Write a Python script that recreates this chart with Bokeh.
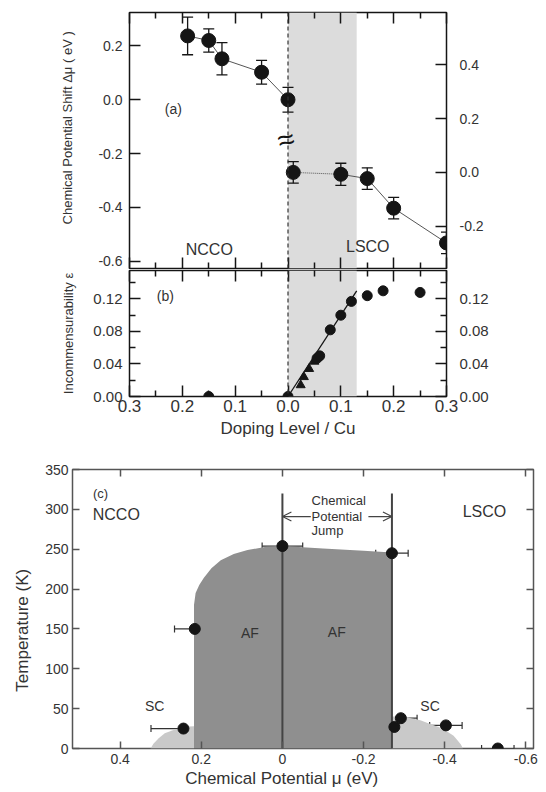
from bokeh.plotting import figure
from bokeh.models import (Range1d, LinearAxis, FixedTicker, CustomJSTickFormatter,
                          BoxAnnotation, Span, Whisker, TeeHead, ColumnDataSource,
                          Arrow, OpenHead, Label, CustomLabelingPolicy)
from bokeh.embed import file_html
from bokeh.resources import INLINE

FONT = "Liberation Sans"
INK = "#151515"
TXT = "#333333"
SHADE = "#dcdcdc"

# ---------------- data: panel (a) ----------------
ncco_dop_a = [0.19, 0.15, 0.125, 0.05, 0.0]
ncco_dmu = [0.237, 0.220, 0.152, 0.102, 0.0]
ncco_dmu_err = [0.070, 0.043, 0.060, 0.044, 0.046]
lsco_dop_a = [0.01, 0.10, 0.15, 0.20, 0.30]
lsco_dmu = [0.0, -0.007, -0.023, -0.133, -0.262]      # read on the right axis
lsco_dmu_err = [0.040, 0.041, 0.040, 0.040, 0.040]
right_offset = 0.27
a_ticks_left = [0.2, 0.0, -0.2, -0.4, -0.6]
a_ticks_right = [0.4, 0.2, 0.0, -0.2]

# ---------------- data: panel (b) ----------------
ncco_dop_b = [0.15]
ncco_eps = [0.0]
lsco_dop_b = [0.0, 0.055, 0.06, 0.08, 0.10, 0.12, 0.15, 0.18, 0.25]
lsco_eps = [0.0, 0.047, 0.050, 0.082, 0.100, 0.117, 0.124, 0.130, 0.128]
tri_dop = [0.024, 0.030, 0.040, 0.050]
tri_eps = [0.014, 0.024, 0.034, 0.043]
fit_dop = [0.0, 0.13]
fit_eps = [0.0, 0.13]
b_ticks = [0.0, 0.04, 0.08, 0.12]
b_minor = [0.02, 0.06, 0.10, 0.14]
dop_ticks = [-0.3, -0.2, -0.1, 0.0, 0.1, 0.2, 0.3]
dop_minor = [-0.25, -0.15, -0.05, 0.05, 0.15, 0.25]
shade_edge = 0.13

# ---------------- data: panel (c) ----------------
mu_pts = [0.244, 0.216, 0.0, -0.27, -0.276, -0.292, -0.403, -0.531]
temp_pts = [25, 150, 254, 245, 27, 38, 29, 0]
mu_err = [0.08, 0.05, 0.05, 0.04, 0.04, 0.04, 0.04, 0.04]
af_mu = [0.218, 0.218, 0.214, 0.205, 0.194, 0.175, 0.152, 0.12, 0.086, 0.04, 0.0,
         -0.1, -0.2, -0.27, -0.27]
af_T = [0, 180, 195, 205, 214, 226, 236, 244, 249, 253, 254, 251, 248, 246, 0]
sc1_mu = [0.325, 0.318, 0.305, 0.29, 0.27, 0.25, 0.23, 0.218, 0.218]
sc1_T = [0, 6, 13, 19, 23, 26, 27.5, 28, 0]
sc2_mu = [-0.27, -0.27, -0.30, -0.317, -0.34, -0.358, -0.385, -0.407, -0.422,
          -0.432, -0.44, -0.445]
sc2_T = [0, 40, 40, 38, 35.5, 32, 27, 21, 16, 10, 5, 0]
jump_mu = [0.0, -0.27]
jump_top = [320, 320]
c_xticks = [0.4, 0.2, 0.0, -0.2, -0.4, -0.6]
c_yticks = [0, 50, 100, 150, 200, 250, 300, 350]

ABS1 = CustomJSTickFormatter(code="return Math.abs(tick).toFixed(1);")
FIX1 = CustomJSTickFormatter(code="return tick.toFixed(1);")
FIX2 = CustomJSTickFormatter(code="return tick.toFixed(2);")
MUF = CustomJSTickFormatter(code="return Math.abs(tick) < 1e-9 ? '0' : tick.toFixed(1);")
INTF = CustomJSTickFormatter(code="return tick.toFixed(0);")


def style_axis(ax, labels, size="14px", major_in=11, minor_in=6, standoff=7,
               color=INK, width=1.5):
    ax.axis_line_color = None
    ax.major_tick_in = major_in
    ax.major_tick_out = 0
    ax.minor_tick_in = minor_in
    ax.minor_tick_out = 0
    ax.major_tick_line_color = color
    ax.minor_tick_line_color = color
    ax.major_tick_line_width = width
    ax.minor_tick_line_width = width
    if labels:
        ax.major_label_text_font = FONT
        ax.major_label_text_font_size = size
        ax.major_label_text_color = TXT
        ax.major_label_standoff = standoff
    else:
        ax.formatter = CustomJSTickFormatter(code="return '';")
        ax.major_label_policy = CustomLabelingPolicy(
            code="for (let i = 0; i < indices.size; i++) { indices.unset(i) } return indices;")
        ax.major_label_text_font_size = "2px"
        ax.major_label_standoff = 0


def base_fig(**kw):
    p = figure(output_backend="svg", toolbar_location=None, **kw)
    p.grid.visible = False
    p.background_fill_color = "white"
    p.border_fill_color = "white"
    p.outline_line_color = INK
    p.outline_line_width = 1.5
    p.outline_line_alpha = 1.0
    return p


def whisk(p, base, lo, up, dim, size, color=INK, lw=1.3, **kw):
    src = ColumnDataSource(dict(base=base, lo=lo, up=up))
    w = Whisker(source=src, base="base", lower="lo", upper="up", dimension=dim,
                line_color=color, line_width=lw,
                upper_head=TeeHead(size=size, line_color=color, line_width=lw),
                lower_head=TeeHead(size=size, line_color=color, line_width=lw), **kw)
    p.add_layout(w)


# ================= panel (a) =================
A_LO, A_HI = -0.627, 0.324
fa = base_fig(width=546, height=270, x_range=Range1d(-0.3, 0.3),
              y_range=Range1d(A_LO, A_HI), min_border_left=129,
              min_border_right=100, min_border_top=12, min_border_bottom=2)
fa.extra_y_ranges = {"r": Range1d(A_LO + right_offset, A_HI + right_offset)}

xa = fa.xaxis[0]
xa.ticker = FixedTicker(ticks=dop_ticks, minor_ticks=dop_minor)
style_axis(xa, labels=False)
ya = fa.yaxis[0]
ya.ticker = FixedTicker(ticks=a_ticks_left, minor_ticks=[])
ya.formatter = FIX1
style_axis(ya, labels=True, size="14px", standoff=7)
ya.axis_label = "\u00a0" * 7 + "Chemical Potential Shift \u0394\u03bc ( eV )"
ya.axis_label_text_font = FONT
ya.axis_label_text_font_style = "normal"
ya.axis_label_text_font_size = "13px"
ya.axis_label_text_color = TXT
ya.axis_label_standoff = 20

ta = LinearAxis(ticker=FixedTicker(ticks=dop_ticks, minor_ticks=dop_minor))
style_axis(ta, labels=False)
fa.add_layout(ta, "above")
ra = LinearAxis(y_range_name="r", ticker=FixedTicker(ticks=a_ticks_right, minor_ticks=[]),
                formatter=FIX1)
style_axis(ra, labels=True, size="14px", standoff=13)
fa.add_layout(ra, "right")

fa.add_layout(BoxAnnotation(left=0.0, right=shade_edge, fill_color=SHADE, fill_alpha=1.0,
                            line_color=None, level="underlay"))
fa.add_layout(Span(location=0.0, dimension="height", line_color="#333333",
                   line_width=1.2, line_dash="4 3"))

ncco_x = [-d for d in ncco_dop_a]
fa.line(ncco_x, ncco_dmu, line_color="#555555", line_width=1)
fa.line(lsco_dop_a[:2], lsco_dmu[:2], y_range_name="r", line_color="#555555",
        line_width=1, line_dash="1 1")
fa.line(lsco_dop_a[1:], lsco_dmu[1:], y_range_name="r", line_color="#555555", line_width=1)
whisk(fa, ncco_x, [v - e for v, e in zip(ncco_dmu, ncco_dmu_err)],
      [v + e for v, e in zip(ncco_dmu, ncco_dmu_err)], "height", 11)
whisk(fa, lsco_dop_a, [v - e for v, e in zip(lsco_dmu, lsco_dmu_err)],
      [v + e for v, e in zip(lsco_dmu, lsco_dmu_err)], "height", 11, y_range_name="r")
fa.scatter(ncco_x, ncco_dmu, size=14, color=INK)
fa.scatter(lsco_dop_a, lsco_dmu, size=14, color=INK, y_range_name="r")

for txt, x, y, fs, ang in [("(a)", -0.217, -0.036, "14px", 0.0),
                           ("NCCO", -0.149, -0.558, "16px", 0.0),
                           ("LSCO", 0.151, -0.547, "16px", 0.0),
                           ("\u2248", -0.004, -0.147, "30px", 0.25)]:
    fa.add_layout(Label(x=x, y=y, text=txt, text_font=FONT, text_font_size=fs,
                        text_color=TXT if txt != "\u2248" else INK, angle=ang,
                        text_align="center", text_baseline="middle"))

# ================= panel (b) =================
fb = base_fig(width=546, height=176, x_range=Range1d(-0.3, 0.3), y_range=Range1d(0.0, 0.155),
              min_border_left=129, min_border_right=100, min_border_top=0,
              min_border_bottom=50)
xb = fb.xaxis[0]
xb.ticker = FixedTicker(ticks=dop_ticks, minor_ticks=dop_minor)
xb.formatter = ABS1
style_axis(xb, labels=True, size="17px", standoff=3)
xb.axis_label = "Doping Level / Cu"
xb.axis_label_text_font = FONT
xb.axis_label_text_font_style = "normal"
xb.axis_label_text_font_size = "17px"
xb.axis_label_text_color = TXT
xb.axis_label_standoff = 4

yb = fb.yaxis[0]
yb.ticker = FixedTicker(ticks=b_ticks, minor_ticks=b_minor)
yb.formatter = FIX2
style_axis(yb, labels=True, size="15px", standoff=7)
yb.axis_label = "Incommensurability \u03b5"
yb.axis_label_text_font = FONT
yb.axis_label_text_font_style = "normal"
yb.axis_label_text_font_size = "13px"
yb.axis_label_text_color = TXT
yb.axis_label_standoff = 14

tb = LinearAxis(ticker=FixedTicker(ticks=dop_ticks, minor_ticks=dop_minor))
style_axis(tb, labels=False)
fb.add_layout(tb, "above")
rb = LinearAxis(ticker=FixedTicker(ticks=b_ticks, minor_ticks=b_minor), formatter=FIX2)
style_axis(rb, labels=True, size="15px", standoff=13)
fb.add_layout(rb, "right")

fb.add_layout(BoxAnnotation(left=0.0, right=shade_edge, fill_color=SHADE, fill_alpha=1.0,
                            line_color=None, level="underlay"))
fb.add_layout(Span(location=0.0, dimension="height", line_color="#333333",
                   line_width=1.2, line_dash="4 3"))
fb.line(fit_dop, fit_eps, line_color=INK, line_width=1.3)
fb.scatter([-d for d in ncco_dop_b], ncco_eps, size=10, color=INK)
fb.scatter(lsco_dop_b, lsco_eps, size=10, color=INK)
fb.scatter(tri_dop, tri_eps, marker="triangle", size=9, color=INK)
fb.add_layout(Label(x=-0.232, y=0.124, text="(b)", text_font=FONT, text_font_size="14px",
                    text_color=TXT, text_align="center", text_baseline="middle"))

# ================= panel (c) =================
fc = base_fig(width=546, height=346, x_range=Range1d(0.5175, -0.619),
              y_range=Range1d(0, 350), min_border_left=72, min_border_right=13,
              min_border_top=23, min_border_bottom=44)
fc.outline_line_color = "#555555"
GR = "#555555"
xc = fc.xaxis[0]
xc.ticker = FixedTicker(ticks=c_xticks, minor_ticks=[])
xc.formatter = MUF
style_axis(xc, labels=True, size="14px", major_in=7, standoff=5, color=GR)
xc.axis_label = "Chemical Potential \u03bc  (eV)" + "\u00a0" * 8
xc.axis_label_text_font = FONT
xc.axis_label_text_font_style = "normal"
xc.axis_label_text_font_size = "17px"
xc.axis_label_text_color = TXT
xc.axis_label_standoff = 2

yc = fc.yaxis[0]
yc.ticker = FixedTicker(ticks=c_yticks, minor_ticks=[])
yc.formatter = INTF
style_axis(yc, labels=True, size="14px", major_in=7, standoff=4, color=GR)
yc.axis_label = "Temperature (K)" + "\u00a0" * 9
yc.axis_label_text_font = FONT
yc.axis_label_text_font_style = "normal"
yc.axis_label_text_font_size = "17px"
yc.axis_label_text_color = TXT
yc.axis_label_standoff = 10

tc = LinearAxis(ticker=FixedTicker(ticks=c_xticks, minor_ticks=[]))
style_axis(tc, labels=False, major_in=7, color=GR)
fc.add_layout(tc, "above")
rc = LinearAxis(ticker=FixedTicker(ticks=c_yticks, minor_ticks=[]))
style_axis(rc, labels=False, major_in=7, color=GR)
fc.add_layout(rc, "right")

fc.patch(af_mu, af_T, fill_color="#8f8f8f", line_color=None)
fc.patch(sc1_mu, sc1_T, fill_color="#c9c9c9", line_color=None)
fc.patch(sc2_mu, sc2_T, fill_color="#c9c9c9", line_color=None)
fc.segment(x0=jump_mu, y0=[0, 0], x1=jump_mu, y1=jump_top, line_color="#444444",
           line_width=2)
whisk(fc, temp_pts, [m - e for m, e in zip(mu_pts, mu_err)],
      [m + e for m, e in zip(mu_pts, mu_err)], "width", 7, color="#333333", lw=1.2)
fc.scatter(mu_pts, temp_pts, size=11, color=INK)

fc.add_layout(Arrow(end=OpenHead(size=9, line_color="#444444", line_width=1.2),
                    x_start=-0.07, y_start=291, x_end=jump_mu[0], y_end=291,
                    line_color="#444444", line_width=1.2))
fc.add_layout(Arrow(end=OpenHead(size=9, line_color="#444444", line_width=1.2),
                    x_start=-0.212, y_start=291, x_end=jump_mu[1], y_end=291,
                    line_color="#444444", line_width=1.2))
for txt, y in [("Chemical", 311), ("Potential", 291), ("Jump", 274)]:
    fc.add_layout(Label(x=-0.072, y=y, text=txt, text_font=FONT, text_font_size="13px",
                        text_color=TXT, text_align="left", text_baseline="middle"))
for txt, x, y, fs in [("(c)", 0.445, 320, "13px"), ("NCCO", 0.406, 294, "16px"),
                      ("LSCO", -0.498, 297, "16px"), ("AF", 0.08, 145, "14px"),
                      ("AF", -0.134, 146, "14px"), ("SC", 0.315, 53, "14px"),
                      ("SC", -0.364, 53, "14px")]:
    fc.add_layout(Label(x=x, y=y, text=txt, text_font=FONT, text_font_size=fs,
                        text_color=TXT, text_align="left" if txt in ("(c)", "NCCO") else "center",
                        text_baseline="middle",
                        x_offset=-9 if txt == "(c)" else (-25 if txt == "NCCO" else 0)))

open("out.html", "w").write(file_html([fa, fb, fc], INLINE))
